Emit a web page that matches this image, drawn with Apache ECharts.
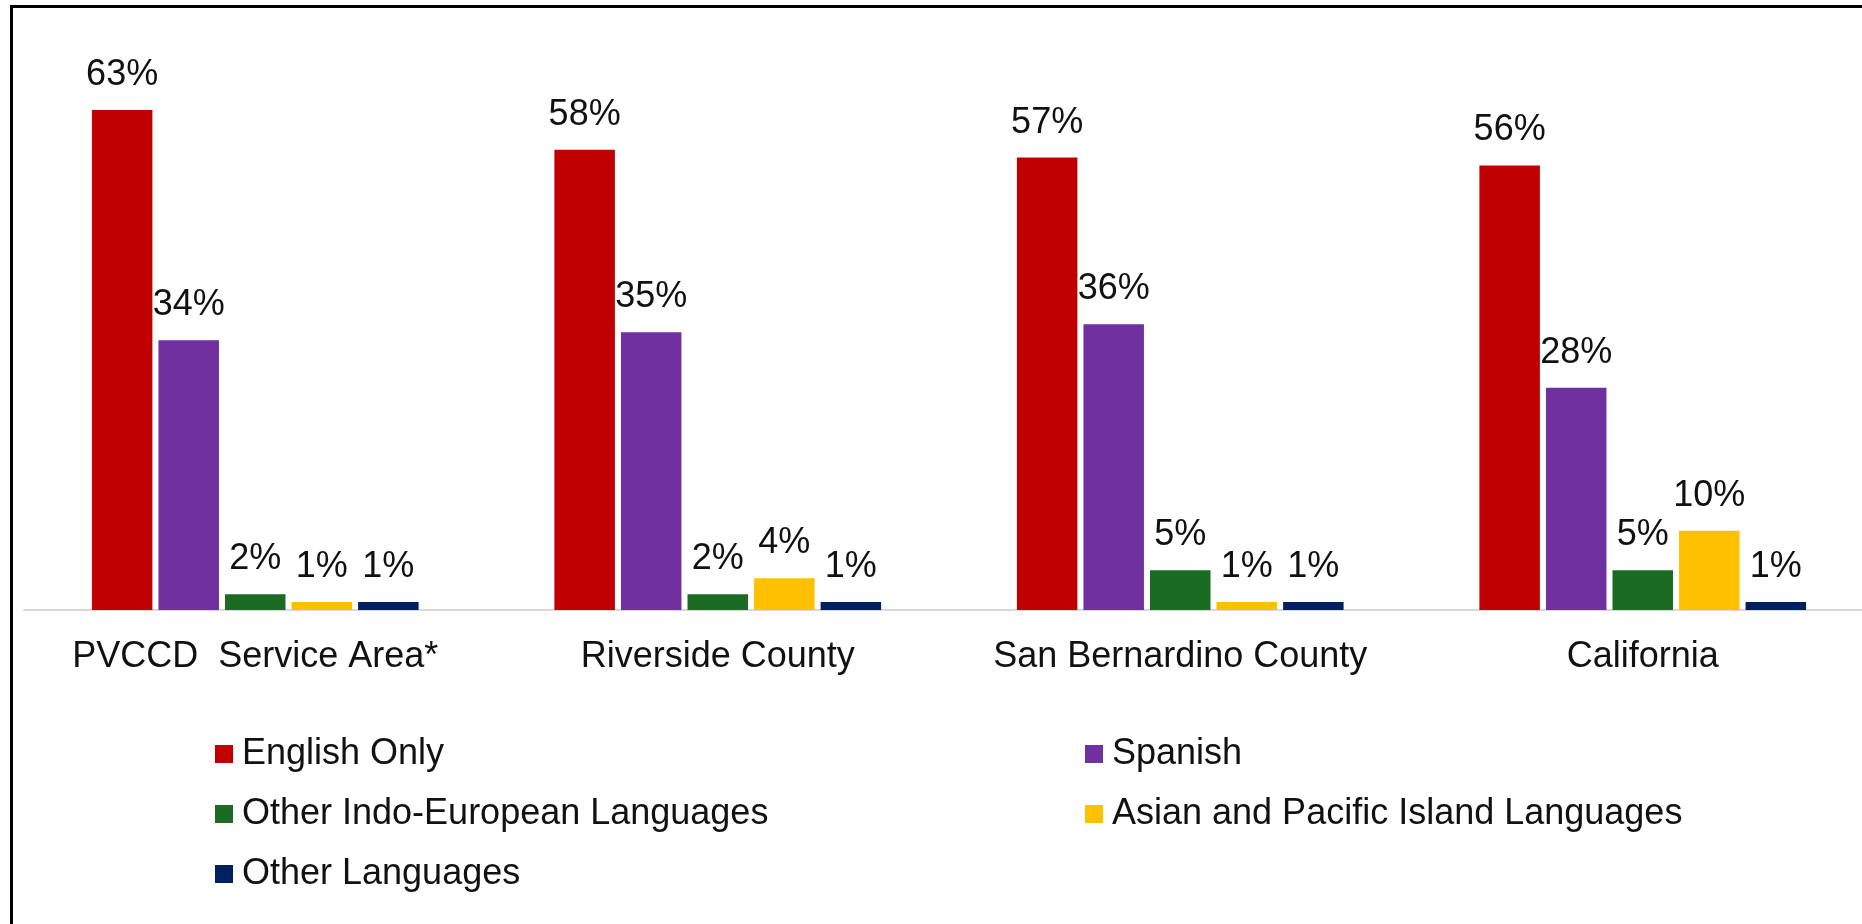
<!DOCTYPE html>
<html>
<head>
<meta charset="utf-8">
<title>Language Spoken at Home</title>
<script src="https://cdn.jsdelivr.net/npm/echarts@6/dist/echarts.min.js"></script>
<style>
    html, body { margin: 0; padding: 0; background: #fff; }
    #chart { width: 1862px; height: 924px; }
</style>
</head>
<body>
<div id="chart"></div>
<script>
    // categories (x axis)
    const regions = ['PVCCD  Service Area*', 'Riverside County', 'San Bernardino County', 'California'];

    // series names
    const seriesNames = [
        'English Only',
        'Spanish',
        'Other Indo-European Languages',
        'Asian and Pacific Island Languages',
        'Other Languages',
    ];

    // values in percent
    const englishOnly = [63, 58, 57, 56];
    const spanish = [34, 35, 36, 28];
    const indoEuropean = [2, 2, 5, 5];
    const asianPacific = [1, 4, 1, 10];
    const otherLanguages = [1, 1, 1, 1];

    const colors = ['#c00000', '#7030a0', '#1c6b24', '#ffc000', '#002060'];
    const fontFamily = '"Liberation Sans", Arial, sans-serif';

    const chart = echarts.init(document.getElementById('chart'));

    const values = [englishOnly, spanish, indoEuropean, asianPacific, otherLanguages];

    const legendText = {
        fontFamily: fontFamily,
        fontSize: 36,
        color: '#111',
        lineHeight: 36,
        padding: [0, 0, 0, 4],
    };

    chart.setOption({
        animation: false,
        color: colors,
        grid: {
            left: 24,
            width: 1850,
            top: 54.4,
            height: 555.6,
            outerBoundsMode: 'none',
        },
        graphic: [
            {
                type: 'rect',
                shape: { x: 11.5, y: 6.5, width: 1900, height: 1000 },
                style: { fill: 'none', stroke: '#000', lineWidth: 3 },
                z: 100,
            },
        ],
        legend: [
            {
                data: [seriesNames[0], seriesNames[2], seriesNames[4]],
                orient: 'vertical',
                left: 215,
                top: 736,
                itemWidth: 18,
                itemHeight: 18,
                itemGap: 24,
                icon: 'rect',
                textStyle: legendText,
                padding: 0,
            },
            {
                data: [seriesNames[1], seriesNames[3]],
                orient: 'vertical',
                left: 1085,
                top: 736,
                itemWidth: 18,
                itemHeight: 18,
                itemGap: 24,
                icon: 'rect',
                textStyle: legendText,
                padding: 0,
            },
        ],
        xAxis: {
            type: 'category',
            data: regions,
            axisTick: { show: false },
            axisLine: {
                lineStyle: { color: '#d9d9d9', width: 2 },
            },
            axisLabel: {
                margin: 29,
                fontFamily: fontFamily,
                fontSize: 36,
                color: '#111',
                interval: 0,
            },
        },
        yAxis: {
            type: 'value',
            min: 0,
            max: 70,
            show: false,
            splitLine: { show: false },
        },
        series: seriesNames.map((name, i) => ({
            name: name,
            type: 'bar',
            data: values[i],
            barWidth: 60.5,
            barGap: '10%',
            itemStyle: { color: colors[i] },
            label: {
                show: true,
                position: 'top',
                distance: 17,
                formatter: '{c}%',
                fontFamily: fontFamily,
                fontSize: 36,
                color: '#111',
            },
        })),
    });
</script>
</body>
</html>
